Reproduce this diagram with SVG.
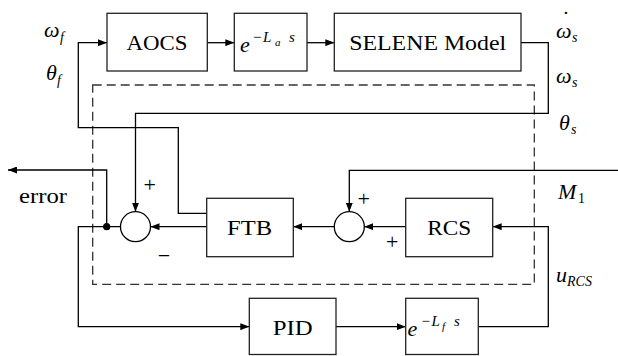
<svg xmlns="http://www.w3.org/2000/svg" width="618" height="356" viewBox="0 0 618 356">
<style>
.box{fill:#fff;stroke:#222;stroke-width:1.3}
.ln{fill:none;stroke:#000;stroke-width:1.3}
.dash{fill:none;stroke:#333;stroke-width:1.3;stroke-dasharray:9,5}
.sum{fill:#fff;stroke:#000;stroke-width:1.3}
</style>
<defs>
<marker id="ah" markerWidth="9" markerHeight="7" refX="9" refY="3.5" orient="auto" markerUnits="userSpaceOnUse">
<path d="M0,0 L9,3.5 L0,7 z" fill="#000"/>
</marker>
</defs>
<rect class="dash" x="92.7" y="85" width="441.6" height="199.3"/>

<g id="connectors">
<path class="ln" d="M207,213.3 H178.3 V127.7 H78.3 V42.7 H107" marker-end="url(#ah)"/>
<path class="ln" d="M207,42.7 H234.3" marker-end="url(#ah)"/>
<path class="ln" d="M307,42.7 H334.3" marker-end="url(#ah)"/>
<path class="ln" d="M521,42.7 H548.3 V113.3 H135.5 V211.7" marker-end="url(#ah)"/>
<path class="ln" d="M207,226.7 H150.5" marker-end="url(#ah)"/>
<path class="ln" d="M120.5,226.7 H78.3 V326.7 H249.3" marker-end="url(#ah)"/>
<path class="ln" d="M106.7,226.7 V170 H8" marker-end="url(#ah)"/>
<path class="ln" d="M336,326.7 H405.7" marker-end="url(#ah)"/>
<path class="ln" d="M478.3,326.7 H548.3 V226.7 H492.7" marker-end="url(#ah)"/>
<path class="ln" d="M405.7,226.7 H364.3" marker-end="url(#ah)"/>
<path class="ln" d="M334.3,226.7 H293.3" marker-end="url(#ah)"/>
<path class="ln" d="M618,170.3 H349.3 V211.7" marker-end="url(#ah)"/>
<circle cx="106.7" cy="226.7" r="3.6" fill="#000"/>
</g>

<g id="aocs">
<rect class="box" x="107" y="13.3" width="100.3" height="57.7"/>
<text font-family="Liberation Serif" font-size="22" text-anchor="middle" x="157" y="50" textLength="61" lengthAdjust="spacingAndGlyphs">AOCS</text>
</g>
<g id="delay-a">
<rect class="box" x="234.3" y="13.3" width="72.7" height="57.7"/>
<text font-family="Liberation Serif" font-style="italic" font-size="22" x="240" y="52">e</text>
<text font-family="Liberation Serif" font-size="15" x="253" y="42">−</text>
<text font-family="Liberation Serif" font-style="italic" font-size="15" x="263" y="42">L</text>
<text font-family="Liberation Serif" font-style="italic" font-size="11" x="275" y="46">a</text>
<text font-family="Liberation Serif" font-style="italic" font-size="15" x="289" y="42">s</text>
</g>
<g id="selene">
<rect class="box" x="334.3" y="13.3" width="186.7" height="57.7"/>
<text font-family="Liberation Serif" font-size="22" text-anchor="middle" x="427.7" y="50" textLength="157" lengthAdjust="spacingAndGlyphs">SELENE Model</text>
</g>
<g id="ftb">
<rect class="box" x="206.7" y="198.3" width="86.6" height="58.4"/>
<text font-family="Liberation Serif" font-size="22" text-anchor="middle" x="249.5" y="234.5" textLength="45" lengthAdjust="spacingAndGlyphs">FTB</text>
</g>
<g id="rcs">
<rect class="box" x="405.7" y="198.3" width="87" height="58.4"/>
<text font-family="Liberation Serif" font-size="22" text-anchor="middle" x="449.2" y="234.5" textLength="44" lengthAdjust="spacingAndGlyphs">RCS</text>
</g>
<g id="pid">
<rect class="box" x="249.3" y="298.3" width="86.7" height="56.2"/>
<text font-family="Liberation Serif" font-size="22" text-anchor="middle" x="292.7" y="334.5" textLength="40" lengthAdjust="spacingAndGlyphs">PID</text>
</g>
<g id="delay-f">
<rect class="box" x="405.7" y="298.3" width="72.6" height="56.2"/>
<text font-family="Liberation Serif" font-style="italic" font-size="22" x="407.5" y="336">e</text>
<text font-family="Liberation Serif" font-size="15" x="421.5" y="326">−</text>
<text font-family="Liberation Serif" font-style="italic" font-size="15" x="431.5" y="326">L</text>
<text font-family="Liberation Serif" font-style="italic" font-size="11" x="442" y="330">f</text>
<text font-family="Liberation Serif" font-style="italic" font-size="15" x="454" y="326">s</text>
</g>
<g id="sum1">
<circle class="sum" cx="135.5" cy="226.7" r="15"/>
<text font-family="Liberation Serif" font-size="22" x="149.7" y="191.5" text-anchor="middle">+</text>
<text font-family="Liberation Serif" font-size="22" x="164" y="262.5" text-anchor="middle">−</text>
</g>
<g id="sum2">
<circle class="sum" cx="349.3" cy="226.7" r="15"/>
<text font-family="Liberation Serif" font-size="22" x="363.8" y="205.8" text-anchor="middle">+</text>
<text font-family="Liberation Serif" font-size="22" x="392.2" y="249.2" text-anchor="middle">+</text>
</g>

<g id="labels">
<text font-family="Liberation Serif" font-style="italic" font-size="22" x="44" y="37">ω</text>
<text font-family="Liberation Serif" font-style="italic" font-size="14" x="60" y="42">f</text>
<text font-family="Liberation Serif" font-style="italic" font-size="22" x="46" y="80">θ</text>
<text font-family="Liberation Serif" font-style="italic" font-size="14" x="57" y="85">f</text>
<text font-family="Liberation Serif" font-size="22" x="19" y="203" textLength="48" lengthAdjust="spacingAndGlyphs">error</text>
<text font-family="Liberation Serif" font-style="italic" font-size="22" x="556" y="38">ω</text>
<text font-family="Liberation Serif" font-size="22" x="566" y="26" text-anchor="middle">˙</text>
<text font-family="Liberation Serif" font-style="italic" font-size="14" x="572" y="42">s</text>
<text font-family="Liberation Serif" font-style="italic" font-size="22" x="556" y="83">ω</text>
<text font-family="Liberation Serif" font-style="italic" font-size="14" x="572" y="87">s</text>
<text font-family="Liberation Serif" font-style="italic" font-size="22" x="559" y="130">θ</text>
<text font-family="Liberation Serif" font-style="italic" font-size="14" x="571" y="134">s</text>
<text font-family="Liberation Serif" font-style="italic" font-size="22" x="558" y="199">M</text>
<text font-family="Liberation Serif" font-size="14" x="578" y="203">1</text>
<text font-family="Liberation Serif" font-style="italic" font-size="22" x="556" y="282">u</text>
<text font-family="Liberation Serif" font-style="italic" font-size="14" x="567" y="286">RCS</text>
</g>
</svg>
